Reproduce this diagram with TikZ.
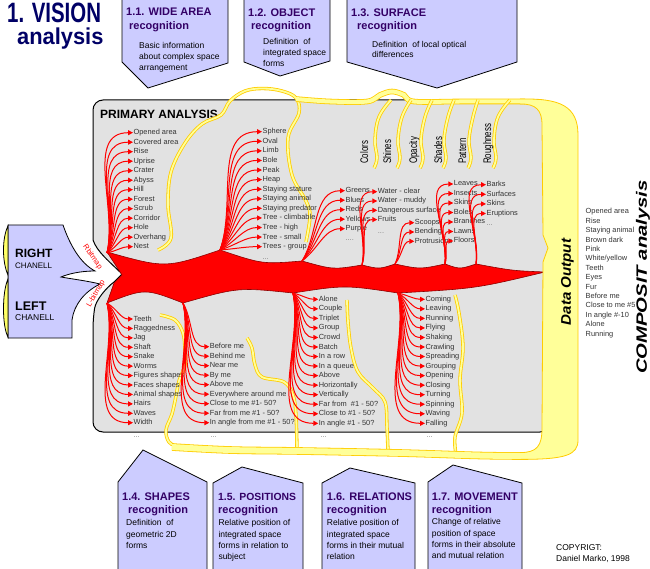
\documentclass[tikz,border=0pt]{standalone}
\usepackage{fontspec}
\setmainfont{Liberation Sans}
\usepackage{xcolor}
\definecolor{visnavy}{RGB}{0,0,102}
\definecolor{boxlilac}{RGB}{204,204,255}
\definecolor{boxpurple}{RGB}{51,0,102}
\definecolor{panelgray}{RGB}{226,226,226}
\definecolor{tubegold}{RGB}{255,204,0}
\definecolor{tubepale}{RGB}{255,255,153}
\definecolor{crescent}{RGB}{255,255,102}
\usetikzlibrary{arrows.meta}

\newcommand{\listfont}{\fontsize{7.4}{9.41}\selectfont}
\newcommand{\descfont}{\fontsize{8.5}{11.4}\selectfont}

\begin{document}
\begin{tikzpicture}[x=1pt, y=1pt, yscale=-1,
    topbox/.style={fill=boxlilac, draw=black, line width=0.8pt},
    panel/.style={fill=panelgray, draw=black, line width=1pt},
    trunk/.style={fill=red, draw=red!55!black, line width=0.6pt},
    fan/.style={draw=red, line width=1pt, -{Triangle[length=5pt, width=5pt]}},
    item/.style={anchor=west, inner sep=0.4pt, text=black!80, font=\listfont, text height=5.4pt, text depth=1.4pt},
    dots/.style={item, text=black!50},
    tube/.style={draw=tubegold, line width=0.8pt, double=tubepale, double distance=1.8pt},
    band/.style={tube, double distance=4pt},
    title/.style={anchor=base west, inner sep=0pt, text=boxpurple, font=\fontsize{11}{11}\selectfont\bfseries},
    desc/.style={anchor=north west, inner sep=0pt, align=left, font=\descfont},
    sidelabel/.style={anchor=west, inner sep=0pt, rotate=90, xscale=0.72, text height=8pt, text depth=2pt, font=\fontsize{11}{11}\selectfont},
    bitmap/.style={text=red, inner sep=0pt, font=\fontsize{7.5}{7.5}\selectfont}
]
\useasboundingbox (0,0) rectangle (650,569);

% === Title ===
\node[anchor=base west, inner sep=0pt, text=visnavy, font=\fontsize{28}{28}\selectfont\bfseries, xscale=0.73] (vis1) at (7,22.7) {1. VISION};
\node[anchor=base west, inner sep=0pt, text=visnavy, font=\fontsize{23}{23}\selectfont\bfseries, xscale=0.95] (vis2) at (17,45) {analysis};

% === Upper recognition boxes ===
\draw[topbox] (122,-3) -- (122,62) -- (148,88) -- (228,63) -- (228,-3) -- cycle;
\node[title] (w11a) at (126,16) {1.1. WIDE AREA};
\node[title] (w11b) at (129,29.5) {recognition};
\node[desc] (w11c) at (139,41.7) {Basic information\\about complex space\\arrangement};

\draw[topbox] (244,-3) -- (244,62) -- (280,76) -- (330,61) -- (330,-3) -- cycle;
\node[title] (o12a) at (248,16.5) {1.2. OBJECT};
\node[title] (o12b) at (251,29.5) {recognition};
\node[desc] (o12c) at (263,37.7) {Definition~ of\\integrated space\\forms};

\draw[topbox] (347,-3) -- (347,62) -- (437,88) -- (517,62) -- (517,-3) -- cycle;
\node[title] (s13a) at (351,16.5) {1.3. SURFACE};
\node[title] (s13b) at (357,29.5) {recognition};
\node[desc, font=\fontsize{8.5}{10.4}\selectfont] (s13c) at (372,40.7) {Definition~ of local optical\\differences};

% === Primary analysis panel ===
\draw[panel] (93,240) [rounded corners=10pt] -- (93,100) -- (550,100) -- (550,432) -- (93,432) -- (93,318)
    [sharp corners] .. controls (96,300) and (106,288) .. (114,282) -- (122,274)
    .. controls (110,262) and (97,252) .. (93,240) -- cycle;
\node[anchor=base west, inner sep=0pt, font=\fontsize{12}{12}\selectfont\bfseries] (prim) at (100,119) {PRIMARY ANALYSIS};

% yellow output tubes
\draw[tube] plot[smooth, tension=0.6] coordinates {(158,250) (171,238) (168,205) (171,172) (185,143) (202,124) (221,115) (230,101) (245,91) (263,88.5) (282,91) (296,98) (299,113) (288,138) (292,175) (306,201) (310,216) (306,242)};
\draw[band] plot[smooth, tension=0.6] coordinates {(296,99) (330,101.5) (367,101.5) (380,95) (392,91.5) (404,95) (414,101.5) (460,101.5) (525,101.5)};
\foreach \xt/\xb in {391/374, 411/397, 432/420, 454/443, 478/468, 510/493}{
    \draw[tube] plot[smooth, tension=0.7] coordinates {(\xt,100) ({\xb+5},117) ({\xb+1},140) ({\xb+3},158) (\xb,168)};
}
\draw[tube] plot[smooth, tension=0.6] coordinates {(160,315) (175,320) (183,333) (185,350) (185,365) (179,381) (176,396) (172,414) (166,430) (169,442) (178,447)};
\draw[tube] plot[smooth, tension=0.6] coordinates {(247,338) (252,348) (255,365) (262,377) (284,382) (293,395) (296,415) (297,451)};
\draw[tube] plot[smooth, tension=0.6] coordinates {(347,300) (348,322) (351,348) (358,372) (373,388) (385,402) (387,427) (388,452)};
\draw[tube] plot[smooth, tension=0.6] coordinates {(455,295) (459,313) (463,347) (460,380) (462,413) (455,437) (456,454)};
\draw[band, double distance=6pt] plot[smooth, tension=0.6] coordinates {(172,447) (230,450) (300,451) (400,453) (480,455.5) (525,456)};

% red trunk with fan origins
\draw[trunk] (107,252)
    .. controls (165.5,268.3) .. (220,250)
    .. controls (262.3,264.2) .. (302,261)
    .. controls (333.3,269.7) .. (362,265)
    .. controls (379.2,269.2) .. (395,264)
    .. controls (420,269.3) .. (445,264)
    .. controls (459.8,269.3) .. (476,264)
    .. controls (512.5,270.7) .. (545,272)
    .. controls (476.2,288.5) .. (398,293)
    .. controls (344.8,285) .. (293,293)
    .. controls (238,287.3) .. (183,303)
    .. controls (145,288.3) .. (107,303)
    -- (114,283) -- (122,275) -- cycle;

\coordinate (oa) at (107,253);
\coordinate (ob) at (220,250);
\coordinate (oc) at (302,261);
\coordinate (ow) at (362,265);
\coordinate (os) at (395,264);
\coordinate (ol) at (445,264);
\coordinate (ok) at (476,264);
\coordinate (uh) at (107,303);
\coordinate (up) at (183,303);
\coordinate (ur) at (293,293);
\coordinate (um) at (398,293);

% === Data output column ===
\fill[tubepale] (520,99.1) .. controls (560,98) and (578,106) .. (578,135) -- (578,440)
    .. controls (578,455) and (566,459.4) .. (520,459.4) -- (520,452.6)
    .. controls (537,452.6) and (542,446) .. (542,428) -- (543,262) -- (548,248) -- (543,235) -- (542,125)
    .. controls (542,110) and (536,103.9) .. (520,103.9) -- cycle;
\draw[tubegold, line width=0.8pt] (520,99.1) .. controls (560,98) and (578,106) .. (578,135) -- (578,440)
    .. controls (578,455) and (566,459.4) .. (520,459.4);
\draw[tubegold, line width=0.8pt] (520,452.6) .. controls (537,452.6) and (542,446) .. (542,428)
    -- (543,262) -- (548,248) -- (543,235) -- (542,125) .. controls (542,110) and (536,103.9) .. (520,103.9);
\node[rotate=90, xscale=1.08, inner sep=0pt, font=\fontsize{14}{14}\selectfont\bfseries\itshape] (dout) at (567.5,282) {Data Output};

% === Upper fans ===
\foreach \t [count=\i] in {Opened area, Covered area, Rise, Uprise, Crater, Abyss, Hill, Forest, Scrub, Corridor, Hole, Overhang, Nest}{
    \pgfmathsetmacro{\ty}{132.7+9.5*(\i-1)}
    \pgfmathsetmacro{\ang}{atan2(\ty-253,26)}
    \node[item] (pa\i) at (133,\ty) {\t};
    \draw[fan] (oa) to[out=\ang, in=180] (pa\i.west);
}
\foreach \t [count=\i] in {Sphere, Oval, Limb, Bole, Peak, Heap, Staying stature, Staying animal, Staying predator, Tree - climbable, Tree - high, Tree - small, Trees - group}{
    \pgfmathsetmacro{\ty}{131.7+9.58*(\i-1)}
    \pgfmathsetmacro{\ang}{atan2(\ty-250,42)}
    \node[item] (sp\i) at (262,\ty) {\t};
    \draw[fan] (ob) to[out=\ang, in=180] (sp\i.west);
}
\node[dots] (spd) at (262,258) {...};
\foreach \t [count=\i] in {Greens, Blues, Reds, Yellows, Purple}{
    \pgfmathsetmacro{\ty}{190.7+9.5*(\i-1)}
    \pgfmathsetmacro{\ang}{atan2(\ty-261,43)}
    \node[item] (co\i) at (345,\ty) {\t};
    \draw[fan] (oc) to[out=\ang, in=180] (co\i.west);
}
\node[dots] (cod) at (345,239) {....};
\foreach \t [count=\i] in {Water - clear, Water - muddy, Dangerous surface, Fruits}{
    \pgfmathsetmacro{\ty}{191.7+9.3*(\i-1)}
    \pgfmathsetmacro{\ang}{atan2(\ty-265,15)}
    \node[item] (wa\i) at (377.3,\ty) {\t};
    \draw[fan] (ow) to[out=\ang, in=180] (wa\i.west);
}
\node[dots] (wad) at (377.3,231.7) {...};
\foreach \t [count=\i] in {Scoops, Bending, Protrusions}{
    \pgfmathsetmacro{\ty}{222.7+9.3*(\i-1)}
    \pgfmathsetmacro{\ang}{atan2(\ty-264,19)}
    \node[item] (sc\i) at (414.3,\ty) {\t};
    \draw[fan] (os) to[out=\ang, in=180] (sc\i.west);
}
\foreach \t [count=\i] in {Leaves, Insects, Skins, Boles, Branches, Lawns, Floors}{
    \pgfmathsetmacro{\ty}{184+9.5*(\i-1)}
    \pgfmathsetmacro{\ang}{atan2(\ty-264,8)}
    \node[item] (le\i) at (453.3,\ty) {\t};
    \draw[fan] (ol) to[out=\ang, in=180] (le\i.west);
}
\foreach \t [count=\i] in {Barks, Surfaces, Skins, Eruptions}{
    \pgfmathsetmacro{\ty}{184.7+9.6*(\i-1)}
    \pgfmathsetmacro{\ang}{atan2(\ty-264,10)}
    \node[item] (ba\i) at (486,\ty) {\t};
    \draw[fan] (ok) to[out=\ang, in=180] (ba\i.west);
}
\node[dots] (bad) at (486,223.3) {...};

% surface categories
\foreach \x/\t in {365/Colors, 388/Shines, 414/Opacity, 439/Shades, 463/Pattern, 488/Roughness}
    \node[sidelabel] (lab\t) at (\x,164) {\t};

% === Lower fans ===
\foreach \t [count=\i] in {Teeth, Raggedness, Jag, Shaft, Snake, Worms, Figures shapes, Faces shapes, Animal shapes, Hairs, Waves, Width}{
    \pgfmathsetmacro{\ty}{319+9.43*(\i-1)}
    \pgfmathsetmacro{\ang}{atan2(\ty-303,26)}
    \node[item] (sh\i) at (133,\ty) {\t};
    \draw[fan] (uh) to[out=\ang, in=180] (sh\i.west);
}
\node[dots] (shd) at (133,435) {...};
\foreach \t [count=\i] in {Before me, Behind me, Near me, By me, Above me, Everywhere around me, Close to me \#1- 50?, Far from me \#1 - 50?, In angle from me \#1 - 50?}{
    \pgfmathsetmacro{\ty}{346.7+9.5*(\i-1)}
    \pgfmathsetmacro{\ang}{atan2(\ty-303,26)}
    \node[item] (po\i) at (209.3,\ty) {\t};
    \draw[fan] (up) to[out=\ang, in=180] (po\i.west);
}
\node[dots] (pod) at (210,435) {...};
\foreach \t [count=\i] in {Alone, Couple, Triplet, Group, Crowd, Batch, In a row, In a queue, Above, Horizontally, Vertically, Far from~ \#1 - 50?, Close to \#1 - 50?, In angle \#1 - 50?}{
    \pgfmathsetmacro{\ty}{299.3+9.54*(\i-1)}
    \pgfmathsetmacro{\ang}{atan2(\ty-293,25)}
    \node[item] (re\i) at (318.3,\ty) {\t};
    \draw[fan] (ur) to[out=\ang, in=180] (re\i.west);
}
\node[dots] (red) at (320,435) {...};
\foreach \t [count=\i] in {Coming, Leaving, Running, Flying, Shaking, Crawling, Spreading, Grouping, Opening, Closing, Turning, Spinning, Waving, Falling}{
    \pgfmathsetmacro{\ty}{299.3+9.54*(\i-1)}
    \pgfmathsetmacro{\ang}{atan2(\ty-293,27)}
    \node[item] (mo\i) at (425,\ty) {\t};
    \draw[fan] (um) to[out=\ang, in=180] (mo\i.west);
}
\node[dots] (mod) at (426,435) {...};

% === Input channels ===
\draw[fill=boxlilac, draw=black, line width=0.8pt] (8,225) -- (63,225) .. controls (70,245) and (80,263) .. (95,271)
    .. controls (80,271) and (68,274) .. (61,277) .. controls (72,279) and (88,281) .. (100,284)
    .. controls (84,292) and (74,305) .. (72,320) -- (72,338) -- (8,338) -- cycle;
\draw[fill=crescent, draw=black, line width=0.8pt] (8,226) .. controls (2,238) and (2,262) .. (8,275) -- cycle;
\draw[fill=crescent, draw=black, line width=0.8pt] (8,279) .. controls (2,292) and (2,326) .. (8,337) -- cycle;
\node[anchor=base west, inner sep=0pt, font=\fontsize{12}{12}\selectfont\bfseries] (rch1) at (15,258) {RIGHT};
\node[anchor=base west, inner sep=0pt, font=\fontsize{8}{8}\selectfont] (rch2) at (15,268.3) {CHANELL};
\node[anchor=base west, inner sep=0pt, font=\fontsize{12.5}{12.5}\selectfont\bfseries] (lch1) at (15,310) {LEFT};
\node[anchor=base west, inner sep=0pt, font=\fontsize{8.5}{8.5}\selectfont] (lch2) at (15,320) {CHANELL};
\node[bitmap, rotate=-55] (rbit) at (92.5,257) {Rbitmap};
\node[bitmap, rotate=60] (lbit) at (96,294) {L-bitmap};

% === Composit analysis ===
\node[anchor=north west, inner sep=0pt, align=left, font=\listfont, text=black!80] (clist) at (585.5,208.3)
    {Opened area\\Rise\\Staying animal\\Brown dark\\Pink\\White/yellow\\Teeth\\Eyes\\Fur\\Before me\\Close to me \#5\\In angle \#-10\\Alone\\Running};
\node[rotate=90, xscale=1.35, inner sep=0pt, font=\fontsize{15}{15}\selectfont\bfseries\itshape] (comp) at (643,277) {COMPOSIT analysis};

% === Lower recognition boxes ===
\draw[topbox] (118,572) -- (118,482) -- (143,450) -- (207,482) -- (207,572) -- cycle;
\node[title] (h14a) at (122,500) {1.4. SHAPES};
\node[title] (h14b) at (128,513) {recognition};
\node[desc] (h14c) at (126,519.4) {Definition~ of\\geometric 2D\\forms};

\draw[topbox] (213,572) -- (213,483) -- (242,467) -- (303,483) -- (303,572) -- cycle;
\node[title, font=\fontsize{10.4}{10.4}\selectfont\bfseries] (p15a) at (218,500) {1.5. POSITIONS};
\node[title] (p15b) at (218,513) {recognition};
\node[desc] (p15c) at (218.3,519.4) {Relative position of\\integrated space\\forms in relation to\\subject};

\draw[topbox] (322,572) -- (322,483) -- (350,468) -- (415,483) -- (415,572) -- cycle;
\node[title] (r16a) at (326.7,500) {1.6. RELATIONS};
\node[title] (r16b) at (326.7,513) {recognition};
\node[desc] (r16c) at (326.7,519.4) {Relative position of\\integrated space\\forms in their mutual\\relation};

\draw[topbox] (428,572) -- (428,482) -- (453,465) -- (522,483) -- (522,572) -- cycle;
\node[title] (m17a) at (431.7,500) {1.7. MOVEMENT};
\node[title] (m17b) at (431.7,513.3) {recognition};
\node[desc] (m17c) at (431.7,518.4) {Change of relative\\position of space\\forms in their absolute\\and mutual relation};

\node[anchor=north west, inner sep=0pt, align=left, font=\fontsize{8.5}{11.5}\selectfont] (copy) at (556,544) {COPYRIGT:\\Daniel Marko, 1998};

\end{tikzpicture}
\end{document}
